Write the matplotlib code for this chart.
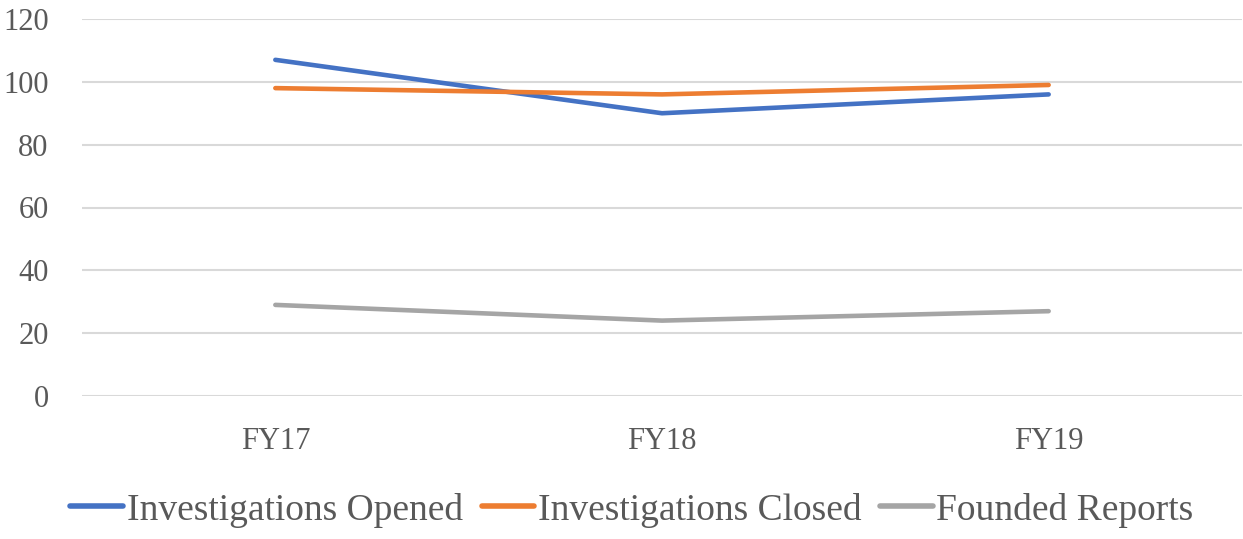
import matplotlib
matplotlib.use('Agg')
import matplotlib.pyplot as plt

years = ['FY17', 'FY18', 'FY19']
opened = [107, 90, 96]
closed = [98, 96, 99]
founded = [29, 24, 27]
series_names = ['Investigations Opened', 'Investigations Closed', 'Founded Reports']
colors = ['#4472c4', '#ed7d31', '#a5a5a5']

plt.rcParams['font.family'] = ['Liberation Serif', 'DejaVu Serif']
text_color = '#595959'

fig = plt.figure(figsize=(12.43, 5.39), dpi=100)
ax = fig.add_axes([82 / 1243, 1 - 396 / 539, 1160 / 1243, 377 / 539])

x = range(len(years))
for vals, name, c in zip([opened, closed, founded], series_names, colors):
    ax.plot(x, vals, color=c, lw=3.3, solid_capstyle='round', label=name)

ax.set_ylim(0, 120)
ax.set_yticks(range(0, 121, 20))
ax.set_xlim(-0.5, 2.5)
ax.set_xticks(list(x))
ax.set_xticklabels(years)
ax.grid(axis='y', color='#d9d9d9', lw=1.5)
ax.set_axisbelow(True)
for s in ax.spines.values():
    s.set_visible(False)
ax.tick_params(length=0, labelsize=22, colors=text_color)
ax.tick_params(axis='y', pad=24)
ax.tick_params(axis='x', pad=22)

leg = fig.legend(loc='center', bbox_to_anchor=(632 / 1243, 1 - 510 / 539), ncol=3,
                 frameon=False, fontsize=27, handlelength=1.4,
                 handletextpad=0.1, columnspacing=0.5)
for line in leg.get_lines():
    line.set_linewidth(4)
for t in leg.get_texts():
    t.set_color(text_color)

fig.savefig('out.png', dpi=100)
